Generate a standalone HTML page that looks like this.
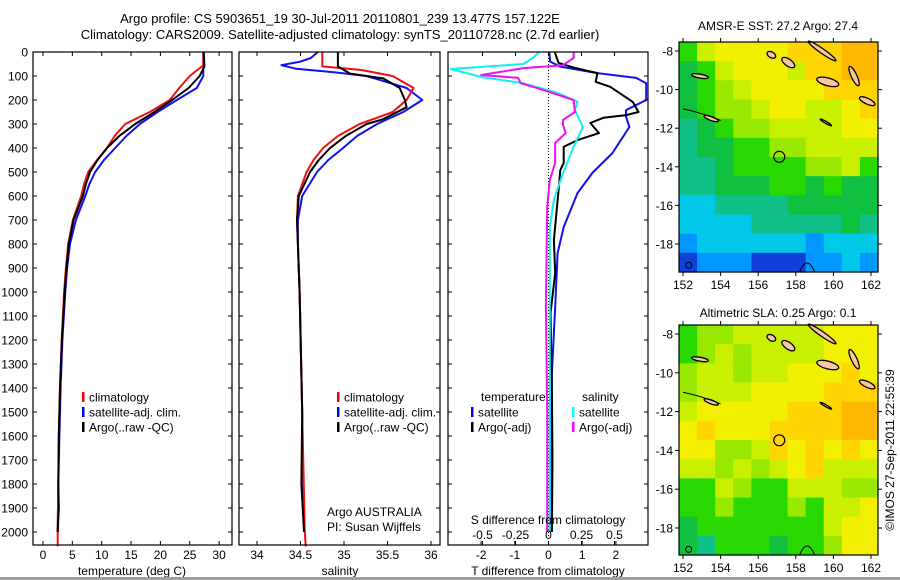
<!DOCTYPE html>
<html><head><meta charset="utf-8">
<style>
html,body{margin:0;padding:0;background:#fff;}
svg{display:block;font-family:"Liberation Sans",Arial,sans-serif;font-size:12px;}
</style></head>
<body>
<svg id="fig" width="900" height="580" viewBox="0 0 900 580" xmlns="http://www.w3.org/2000/svg">
<defs><clipPath id="clip3"><rect x="448" y="52" width="200" height="493"/></clipPath></defs>
<rect x="0" y="0" width="900" height="580" fill="#fff"/>
<text x="340" y="23" text-anchor="middle" font-size="13">Argo profile: CS 5903651_19 30-Jul-2011 20110801_239 13.477S 157.122E</text>
<text x="340" y="39" text-anchor="middle" font-size="13">Climatology: CARS2009. Satellite-adjusted climatology: synTS_20110728.nc (2.7d earlier)</text>
<g id="p1"></g>
<g id="p2"></g>
<g id="p3"></g>
<g id="m1"></g>
<g id="m2"></g>
<text transform="translate(894,450) rotate(-90)" text-anchor="middle" font-size="12">©IMOS 27-Sep-2011 22:55:39</text>
<rect x="0" y="577" width="900" height="3" fill="#a0a0a0"/>
</svg>
<script>
// ---- data ----
const depthTicks=[0,100,200,300,400,500,600,700,800,900,1000,1100,1200,1300,1400,1500,1600,1700,1800,1900,2000];
const tempTicks=[0,5,10,15,20,25,30];
const salTicks=[34,34.5,35,35.5,36];
const salTickLabels=["34","34.5","35","35.5","36"];
const tdTicks=[-2,-1,0,1,2];
const sdTicks=[-0.5,-0.25,0,0.25,0.5];
const sdTickLabels=["-0.5","-0.25","0","0.25","0.5"];

const tClimDepth=[0,55,65,100,150,200,250,300,350,400,450,500,550,600,700,800,900,1000,1200,1400,1600,1800,2000,2060];
const tClim=[27.3,27.3,26.8,25.0,23.2,21.6,18.2,14.0,12.2,10.9,9.2,7.7,7.0,6.5,5.1,4.3,3.9,3.6,3.2,2.9,2.7,2.6,2.5,2.5];
const tSatDepth=[0,100,150,200,250,300,350,400,450,500,550,600,700,800,900,1000,1200,1400,1600,1800,2000];
const tSat=[27.3,27.3,26.2,22.8,19.5,16.5,14.2,12.3,10.4,8.9,7.9,7.2,5.6,4.6,4.1,3.8,3.3,3.0,2.8,2.6,2.5];
const tArgoDepth=[0,60,100,150,200,250,300,350,400,450,500,550,600,700,800,900,1000,1200,1400,1600,1800,1900,2000];
const tArgo=[27.4,27.5,26.7,24.8,22.0,19.0,15.7,13.0,10.9,9.3,8.0,7.3,6.8,5.2,4.4,4.0,3.7,3.2,2.9,2.7,2.6,2.7,2.5];

const sClimDepth=[0,60,75,100,150,200,250,300,350,400,450,500,600,700,800,1000,1500,2000,2060];
const sClim=[34.75,34.75,35.2,35.56,35.8,35.72,35.56,35.18,34.93,34.76,34.65,34.57,34.47,34.46,34.47,34.49,34.52,34.55,34.56];
const sSatDepth=[0,25,40,55,70,85,100,150,200,250,300,350,400,450,500,600,700,800,1000,1500,2000];
const sSat=[34.7,34.62,34.5,34.28,34.45,34.9,35.26,35.72,35.9,35.68,35.38,35.15,34.99,34.82,34.69,34.52,34.47,34.47,34.49,34.52,34.54];
const sArgoDepth=[0,60,90,110,150,200,230,280,300,350,400,450,500,600,700,800,1000,1500,1800,2000];
const sArgo=[34.93,34.93,35.07,35.45,35.64,35.70,35.72,35.45,35.26,35.02,34.84,34.71,34.61,34.48,34.46,34.47,34.49,34.52,34.51,34.54];

const tdSatDepth=[0,40,61,88,108,130,200,242,270,312,421,504,588,729,838,1062,1338,1600,2000];
const tdSat=[0.02,0.05,0.35,1.45,2.6,2.9,2.9,2.3,2.3,2.4,1.9,1.3,0.86,0.45,0.27,0.2,0.1,0.08,0.08];
const tdArgoDepth=[0,6,46,65,88,124,145,208,250,263,274,296,338,367,395,463,492,575,783,921,1088,1400,1700,2000];
const tdArgo=[0.2,0.2,0.3,0.75,1.45,1.4,1.83,2.5,2.67,2.3,1.63,1.24,1.5,0.86,0.45,0.45,0.35,0.3,0.16,0.2,0.06,0.1,0.12,0.1];
const sdSatDepth=[0,25,50,71,104,130,171,207,242,312,395,504,617,729,1000,1500,2000];
const sdSat=[-0.07,-0.12,-0.19,-0.74,-0.51,-0.19,0.07,0.22,0.2,0.26,0.19,0.11,0.04,0.01,0.01,0.01,0.01];
const sdArgoDepth=[0,25,55,67,96,108,130,158,200,250,283,304,338,379,463,533,646,1062,1500,2000];
const sdArgo=[0.19,0.19,0.11,-0.19,-0.51,-0.23,-0.21,-0.04,0.19,0.2,0.11,0.11,0.13,0.05,0.05,0.01,-0.01,-0.02,-0.01,-0.01];

const mapLonTicks=[152,154,156,158,160,162];
const mapLatTicks=[-8,-10,-12,-14,-16,-18];
const sstGrid=[
"GyYYYYoooOO","gGyYYYyooOO","gGLyYYYYooo","gGLLyYYyyYo","TgGLLyyyyYY","TggGGLLyyyy",
"TTgGGGGLLyG","TTgggGGgGgg","CCTTTTggggg","CCCCTTTTTgT","BCCCCCCBCCC","DBBBDDDBBCB"];
const slaGrid=[
"GLLyyyyyYYY","GLyLyyyyYYY","LyyLyyYYYoY","LyyyYYYYooo","yYYYYYoooOO","YoYYYooooOO",
"YYLLyoYoYoY","yyLyLyYoyyy","GGyLGGyyyLL","GGLGGGLGyyY","gGGGGGGGyYY","gTGGGgGGLYY"];
const palette={O:"#ffb800",o:"#ffd400",Y:"#f2f000",y:"#c8f000",L:"#98e800",G:"#28d800",g:"#10c040",T:"#10c088",C:"#00c8e8",B:"#0098ff",D:"#1040d8"};

// ---- helpers ----
const NS="http://www.w3.org/2000/svg";
function mk(parent,tag,attrs,text){const e=document.createElementNS(NS,tag);for(const k in attrs)e.setAttribute(k,attrs[k]);if(text!==undefined)e.textContent=text;parent.appendChild(e);return e;}
const yD=d=>52+d*0.24;
const AX_TOP=52,AX_BOT=545;
function drawLine(g,xs,ds,xf,color,name,w){
  const pts=xs.map((v,i)=>xf(v).toFixed(1)+","+yD(ds[i]).toFixed(1)).join(" ");
  const p=mk(g,"polyline",{points:pts,fill:"none",stroke:color,"stroke-width":w||2,"stroke-linejoin":"round"});
  
  
}
function frame(g,x0,x1,name){
  const r=mk(g,"rect",{x:x0,y:AX_TOP,width:x1-x0,height:AX_BOT-AX_TOP,fill:"none",stroke:"#000","stroke-width":1.2});
  
  
}
function depthTickMarks(g,x0,x1){
  depthTicks.forEach(d=>{const y=yD(d);
    mk(g,"line",{x1:x0,y1:y,x2:x0+4,y2:y,stroke:"#000"});
    mk(g,"line",{x1:x1-4,y1:y,x2:x1,y2:y,stroke:"#000"});});
}
function xTicks(g,ticks,labels,xf,name){
  ticks.forEach((t,i)=>{const x=xf(t);
    mk(g,"line",{x1:x,y1:AX_BOT,x2:x,y2:AX_BOT-4,stroke:"#000"});
    mk(g,"line",{x1:x,y1:AX_TOP,x2:x,y2:AX_TOP+4,stroke:"#000"});
    const tx=mk(g,"text",{x:x,y:559,"text-anchor":"middle"},labels[i]);
    
    
  });
}
function legendRow(g,x,y,color,label){
  mk(g,"rect",{x:x,y:y-5,width:2.5,height:10,fill:color});
  const t=mk(g,"text",{x:x+7,y:y+4.5},label);
  
  
}

// ---- panel 1: temperature ----
const p1=document.getElementById("p1");
const xT=t=>43+t*5.87;
depthTicks.forEach(d=>{const t=mk(p1,"text",{x:28,y:yD(d)+4.5,"text-anchor":"end"},String(d));
  
  });
drawLine(p1,tSat,tSatDepth,xT,"#1010f0","temp-satellite-line");
drawLine(p1,tClim,tClimDepth,xT,"#f01010","temp-climatology-line");
drawLine(p1,tArgo,tArgoDepth,xT,"#000","temp-argo-line");
frame(p1,33,232,"temperature-axes");
depthTickMarks(p1,33,232);
xTicks(p1,tempTicks,tempTicks.map(String),xT,"x-tick-label");
legendRow(p1,82,397,"#f00","climatology");
legendRow(p1,82,412,"#00f","satellite-adj. clim.");
legendRow(p1,82,427,"#000","Argo(..raw -QC)");
mk(p1,"text",{x:132,y:575,"text-anchor":"middle"},"temperature (deg C)");

// ---- panel 2: salinity ----
const p2=document.getElementById("p2");
const xS=s=>257+(s-34)*87;
drawLine(p2,sSat,sSatDepth,xS,"#1010f0","sal-satellite-line");
drawLine(p2,sClim,sClimDepth,xS,"#f01010","sal-climatology-line");
drawLine(p2,sArgo,sArgoDepth,xS,"#000","sal-argo-line");
frame(p2,239,440,"salinity-axes");
depthTickMarks(p2,239,440);
xTicks(p2,salTicks,salTickLabels,xS,"x-tick-label");
legendRow(p2,337,397,"#f00","climatology");
legendRow(p2,337,412,"#00f","satellite-adj. clim.");
legendRow(p2,337,427,"#000","Argo(..raw -QC)");
mk(p2,"text",{x:327,y:516},"Argo AUSTRALIA");
mk(p2,"text",{x:327,y:531},"PI: Susan Wijffels");
mk(p2,"text",{x:340,y:575,"text-anchor":"middle"},"salinity");

// ---- panel 3: differences ----
const p3=document.getElementById("p3");
const xTD=t=>548.5+t*33.7;
const xSD=s=>548.5+s*132;
const lines3=mk(p3,"g",{"clip-path":"url(#clip3)"});
mk(lines3,"line",{x1:548.5,y1:AX_TOP,x2:548.5,y2:AX_BOT,stroke:"#000","stroke-dasharray":"1,2"});
drawLine(lines3,tdSat,tdSatDepth,xTD,"#1010f0","tdiff-satellite-line");
drawLine(lines3,tdArgo,tdArgoDepth,xTD,"#000","tdiff-argo-line");
drawLine(lines3,sdSat,sdSatDepth,xSD,"#10f0f0","sdiff-satellite-line");
drawLine(lines3,sdArgo,sdArgoDepth,xSD,"#f010f0","sdiff-argo-line");
frame(p3,448,648,"difference-axes");
tdTicks.forEach(t=>{const x=xTD(t);
  mk(p3,"line",{x1:x,y1:AX_BOT,x2:x,y2:AX_BOT-4,stroke:"#000"});
  const tx=mk(p3,"text",{x:x,y:559,"text-anchor":"middle"},String(t));
  
  });
sdTicks.forEach((s,i)=>{const x=xSD(s);
  mk(p3,"line",{x1:x,y1:AX_TOP,x2:x,y2:AX_TOP+4,stroke:"#000"});
  mk(p3,"line",{x1:x,y1:AX_BOT,x2:x,y2:AX_BOT-4,stroke:"#000"});
  const tx=mk(p3,"text",{x:x,y:539,"text-anchor":"middle"},sdTickLabels[i]);
  
  });
depthTicks.forEach(d=>{const y=yD(d);mk(p3,"line",{x1:448,y1:y,x2:452,y2:y,stroke:"#000"});mk(p3,"line",{x1:644,y1:y,x2:648,y2:y,stroke:"#000"});});
mk(p3,"text",{x:548,y:524,"text-anchor":"middle"},"S difference from climatology");
mk(p3,"text",{x:548,y:575,"text-anchor":"middle"},"T difference from climatology");
mk(p3,"text",{x:481,y:401},"temperature");
legendRow(p3,471,412,"#00f","satellite");
legendRow(p3,471,427,"#000","Argo(-adj)");
mk(p3,"text",{x:582,y:401},"salinity");
legendRow(p3,572,412,"#0ff","satellite");
legendRow(p3,572,427,"#f0f","Argo(-adj)");

// ---- maps ----
function drawMap(g,grid,top,bot,lat8y,lat18y,title,titleY,name){
  const x0=679,x1=878;
  const lx=lon=>683+(lon-152)*18.8;
  const ly=lat=>lat8y+(-8-lat)*(lat18y-lat8y)/10;
  const cols=grid[0].length,rows=grid.length;
  const cw=(x1-x0)/cols,rh=(bot-top)/rows;
  grid.forEach((row,r)=>{[...row].forEach((c,k)=>{
    mk(g,"rect",{x:x0+k*cw,y:top+r*rh,width:cw+0.6,height:rh+0.6,fill:palette[c]});});});
  const isl=[[156.7,-8.2,0.25,0.15,30],[157.6,-8.6,0.4,0.18,35],[159.4,-8.0,0.9,0.12,35],[159.7,-9.6,0.6,0.2,15],[161.1,-9.3,0.15,0.55,-25],[161.8,-10.6,0.45,0.15,25],[152.9,-9.3,0.45,0.1,10],[153.5,-11.5,0.4,0.1,20],[159.6,-11.7,0.35,0.05,30]];
  isl.forEach(a=>{const e=mk(g,"ellipse",{cx:lx(a[0]),cy:ly(a[1]),rx:a[2]*18.8,ry:a[3]*19.3,fill:"#f8c8a0",stroke:"#000","stroke-width":1.3,transform:`rotate(${a[4]} ${lx(a[0])} ${ly(a[1])})`});
    
    });
  mk(g,"path",{d:`M${lx(152)} ${ly(-11)} Q${lx(153)} ${ly(-11.2)} ${lx(154)} ${ly(-11.6)}`,fill:"none",stroke:"#000"});
  mk(g,"path",{d:`M${lx(158.2)} ${bot} Q${lx(158.6)} ${bot-18} ${lx(159)} ${bot}`,fill:"none",stroke:"#000"});
  mk(g,"circle",{cx:lx(152.3),cy:ly(-19.1),r:3,fill:"none",stroke:"#000"});
  const c=mk(g,"circle",{cx:lx(157.12),cy:ly(-13.48),r:5.5,fill:"none",stroke:"#000","stroke-width":1.2});
  
  
  const fr=mk(g,"rect",{x:x0,y:top,width:x1-x0,height:bot-top,fill:"none",stroke:"#000","stroke-width":1.2});
  
  
  mapLonTicks.forEach(l=>{const x=lx(l);
    mk(g,"line",{x1:x,y1:top,x2:x,y2:top-4,stroke:"#000"});
    mk(g,"line",{x1:x,y1:bot,x2:x,y2:bot+4,stroke:"#000"});
    const t=mk(g,"text",{x:x,y:bot+17,"text-anchor":"middle"},String(l));
    
    });
  mapLatTicks.forEach(l=>{const y=ly(l);
    mk(g,"line",{x1:x0,y1:y,x2:x0-4,y2:y,stroke:"#000"});
    mk(g,"line",{x1:x1,y1:y,x2:x1+4,y2:y,stroke:"#000"});
    const t=mk(g,"text",{x:x0-6,y:y+4.5,"text-anchor":"end"},String(l));
    
    });
  const tt=mk(g,"text",{x:778,y:titleY,"text-anchor":"middle"},title);
  
  
}
drawMap(document.getElementById("m1"),sstGrid,42,272,51,244,"AMSR-E SST: 27.2 Argo: 27.4",30,"sst-map");
drawMap(document.getElementById("m2"),slaGrid,325,555,334,528,"Altimetric SLA: 0.25 Argo: 0.1",317,"sla-map");
</script>
</body></html>
